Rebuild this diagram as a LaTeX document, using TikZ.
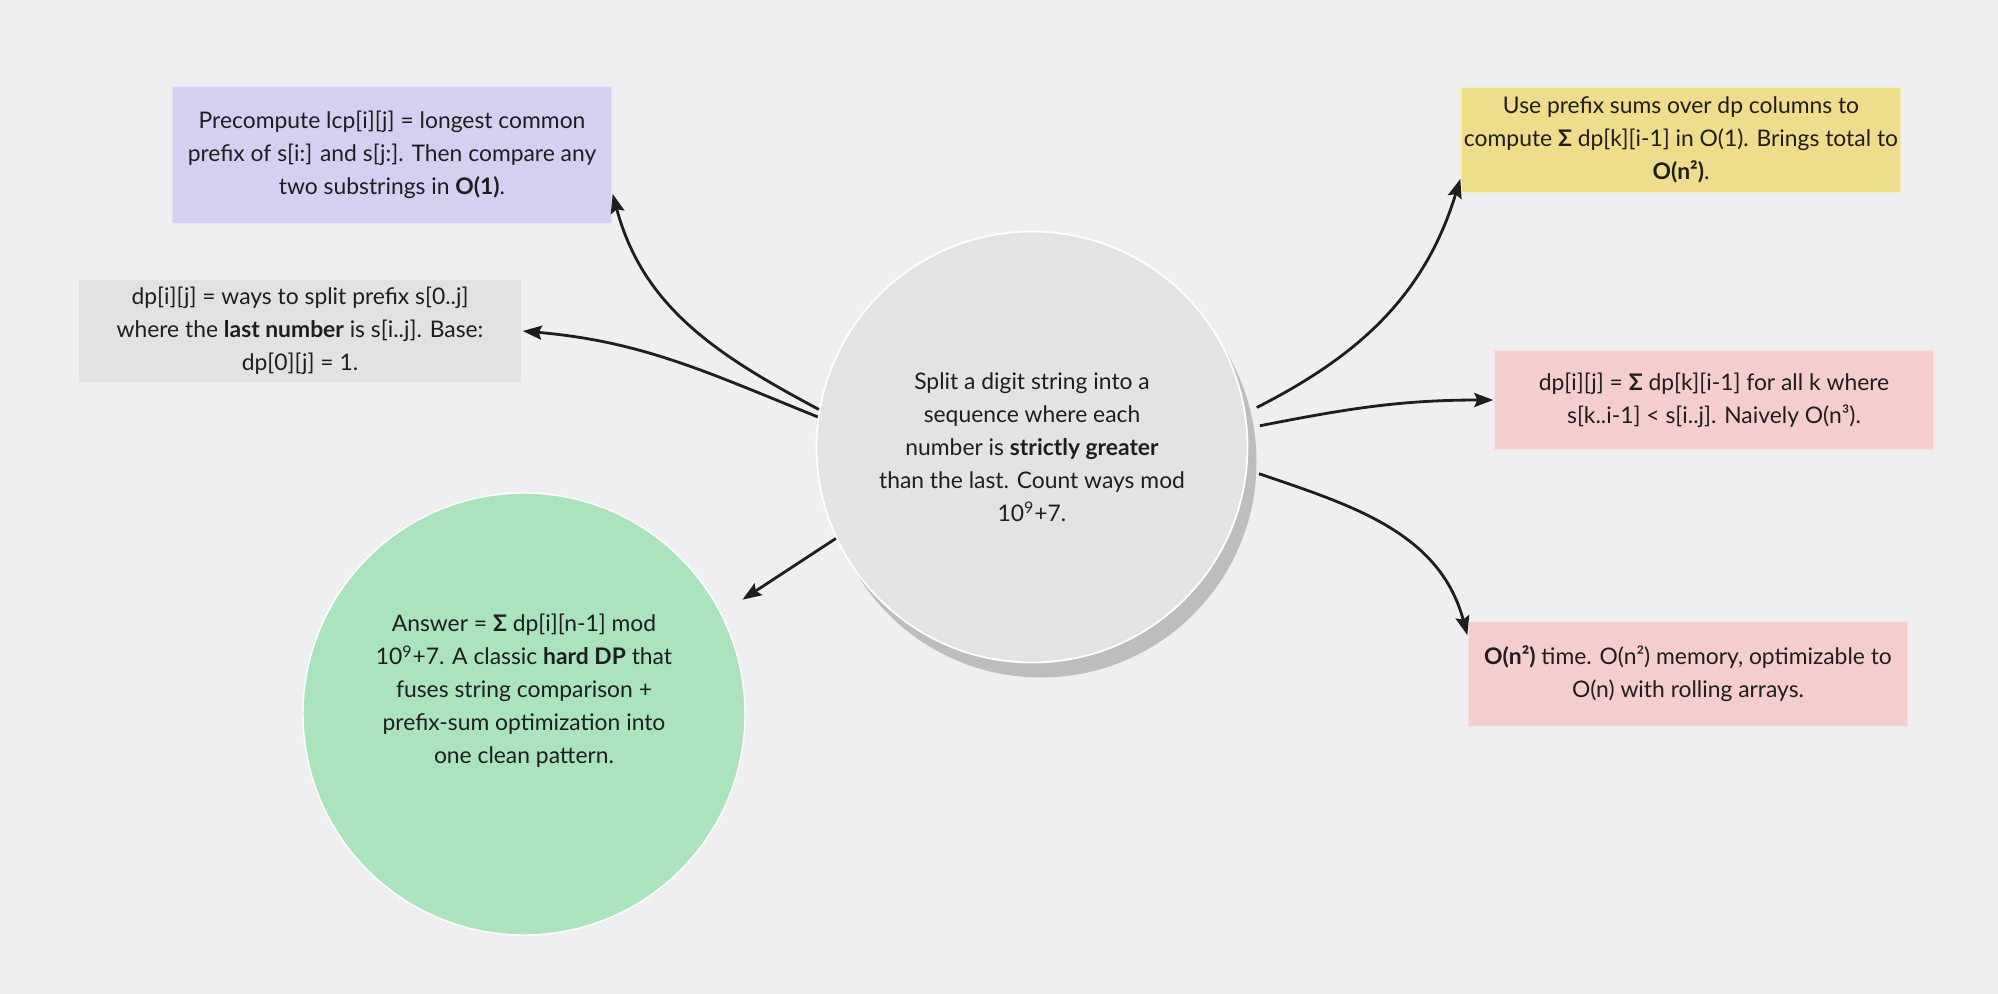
\documentclass[tikz,border=0pt]{standalone}
\usepackage{fontspec}
\setmainfont{Lato}
\usepackage{tikz}
\usetikzlibrary{arrows.meta,shadows}
\definecolor{paper}{HTML}{EFEFF1}
\definecolor{ink}{HTML}{1E1E1E}
\definecolor{lavender}{HTML}{D5D0F0}
\definecolor{stone}{HTML}{E3E2E0}
\definecolor{butter}{HTML}{EEDD8B}
\definecolor{blush}{HTML}{F3CECC}
\definecolor{mint}{HTML}{ABE3BD}
\definecolor{pebble}{HTML}{E4E3E2}
\definecolor{slate}{HTML}{BEBDBD}
\newcommand{\notefont}{\fontsize{13}{18.8}\selectfont}
\tikzset{
  notebox/.style={
    rectangle, draw=#1!55!white, fill=#1, line width=0.8pt,
    minimum width=88mm, minimum height=21mm,
    font=\notefont, align=center, text=ink,
    inner sep=1mm
  },
  notebox/.default=stone,
  hubcircle/.style={
    circle, draw=white, fill=pebble, line width=1pt,
    minimum size=86.2mm, inner sep=0pt,
    font=\notefont, align=center, text=ink,
    drop shadow={shadow xshift=1.8mm, shadow yshift=-3mm, fill=slate, opacity=1}
  },
  answercircle/.style={
    circle, draw=white, fill=mint, line width=0.8pt,
    minimum size=88.4mm, inner sep=0pt,
    font=\notefont, align=center, text=ink
  },
  linkarrow/.style={
    -{Stealth[length=3.8mm, width=2.8mm, inset=0.6mm]}, line width=1.6pt, color=#1
  },
  linkarrow/.default=ink,
}
\begin{document}
\begin{tikzpicture}[x=0.2mm, y=-0.2mm]
  \useasboundingbox (0,0) rectangle (1998,994);
  \fill[paper] (0,0) rectangle (1998,994);

  \node[hubcircle] (hub) at (1032,447)
    {Split a digit string into a\\ sequence where each\\ number is \textbf{strictly greater}\\ than the last. Count ways mod\\ 10\textsuperscript{9}+7.};

  \node[notebox=lavender, minimum height=27.4mm] (lcp) at (392,155)
    {Precompute lcp[i][j] = longest common\\ prefix of s[i:] and s[j:]. Then compare any\\ two substrings in \textbf{O(1)}.};
  \node[notebox=stone, minimum width=88.8mm, minimum height=20.8mm] (dpdef) at (300,331)
    {dp[i][j] = ways to split prefix s[0..j]\\ where the \textbf{last number} is s[i..j]. Base:\\ dp[0][j] = 1.};
  \node[answercircle] (answer) at (524,714)
    {Answer = \textbf{Σ} dp[i][n-1] mod\\ 10\textsuperscript{9}+7. A classic \textbf{hard DP} that\\ fuses string comparison +\\ prefix-sum optimization into\\ one clean pattern.\\[3.4mm]};

  \node[notebox=butter, inner xsep=0pt] (prefix) at (1681,140)
    {Use prefix sums over dp columns to\\ compute \textbf{Σ} dp[k][i-1] in O(1). Brings total to\\ \textbf{O(n²)}.};
  \node[notebox=blush, minimum height=20mm] (recur) at (1714,400)
    {dp[i][j] = \textbf{Σ} dp[k][i-1] for all k where\\ s[k..i-1] < s[i..j]. Naively O(n³).};
  \node[notebox=blush] (complexity) at (1688,674)
    {\textbf{O(n²)} time. O(n²) memory, optimizable to\\ O(n) with rolling arrays.};

  \draw[linkarrow] (hub.170) to[out=152, in=-75] (lcp.-10);
  \draw[linkarrow] (hub.172) to[out=158, in=-5] (dpdef.east);
  \draw[linkarrow, shorten >=5mm] (hub.205) -- (answer.27);
  \draw[linkarrow, shorten <=2.5mm] (hub.9) to[out=27, in=-107] (prefix.190);
  \draw[linkarrow, shorten <=2.5mm] (hub.5) to[out=11, in=180] (recur.west);
  \draw[linkarrow, shorten <=2.5mm] (hub.-6) to[out=-19, in=105] (complexity.170);
\end{tikzpicture}
\end{document}
